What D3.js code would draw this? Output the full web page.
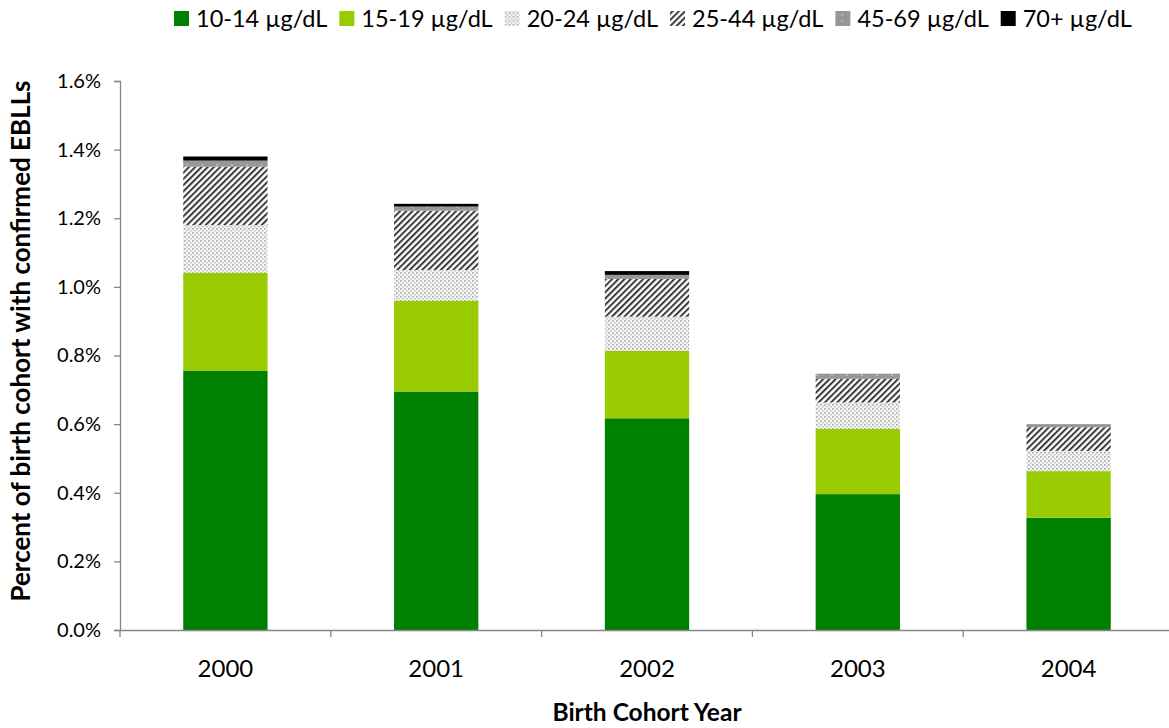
<!DOCTYPE html>
<html>
<head>
<meta charset="utf-8">
<script src="https://cdn.jsdelivr.net/npm/d3@7"></script>
<style>
  html, body { margin: 0; padding: 0; background: #fff; }
  svg { display: block; font-family: Lato, "Open Sans", sans-serif; }
</style>
</head>
<body>
<svg id="chart" width="1169" height="728"></svg>
<script>
// Birth cohort years
const years = ["2000", "2001", "2002", "2003", "2004"];

// Blood lead level groups (stack order, bottom to top)
const levels = ["10-14 µg/dL", "15-19 µg/dL", "20-24 µg/dL", "25-44 µg/dL", "45-69 µg/dL", "70+ µg/dL"];

// Percent of birth cohort with confirmed EBLLs, per level group
const lvl10to14 = [0.756, 0.695, 0.617, 0.396, 0.327];
const lvl15to19 = [0.285, 0.264, 0.197, 0.190, 0.136];
const lvl20to24 = [0.139, 0.090, 0.099, 0.077, 0.059];
const lvl25to44 = [0.170, 0.173, 0.110, 0.069, 0.069];
const lvl45to69 = [0.018, 0.012, 0.012, 0.015, 0.009];
const lvl70plus = [0.012, 0.008, 0.011, 0.000, 0.000];

// Y axis ticks
const yTicks = [0, 0.2, 0.4, 0.6, 0.8, 1.0, 1.2, 1.4, 1.6];

const seriesValues = [lvl10to14, lvl15to19, lvl20to24, lvl25to44, lvl45to69, lvl70plus];
const rows = years.map((yr, i) => {
  const r = { year: yr };
  levels.forEach((lv, j) => { r[lv] = seriesValues[j][i]; });
  return r;
});

const svg = d3.select("#chart");
const axisColor = "#868686";

// Fill patterns
const defs = svg.append("defs");
const dots = defs.append("pattern").attr("id", "pat-dots")
  .attr("patternUnits", "userSpaceOnUse").attr("width", 4).attr("height", 4);
dots.append("rect").attr("width", 4).attr("height", 4).attr("fill", "#f4f4f4");
dots.append("rect").attr("x", 0).attr("y", 0).attr("width", 1.6).attr("height", 1.6).attr("fill", "#a8a8a8");
dots.append("rect").attr("x", 2).attr("y", 2).attr("width", 1.6).attr("height", 1.6).attr("fill", "#c4c4c4");

const stripes = defs.append("pattern").attr("id", "pat-stripes")
  .attr("patternUnits", "userSpaceOnUse").attr("width", 4.4).attr("height", 10)
  .attr("patternTransform", "rotate(45)");
stripes.append("rect").attr("width", 4.4).attr("height", 10).attr("fill", "#ffffff");
stripes.append("rect").attr("x", 0).attr("y", 0).attr("width", 2).attr("height", 10).attr("fill", "#3a3a3a");

const grayDots = defs.append("pattern").attr("id", "pat-gray")
  .attr("patternUnits", "userSpaceOnUse").attr("width", 15).attr("height", 6);
grayDots.append("rect").attr("width", 15).attr("height", 6).attr("fill", "#979797");
grayDots.append("rect").attr("x", 6).attr("y", 2).attr("width", 2).attr("height", 2).attr("fill", "#b4b4b4");

const fills = ["#008000", "#99cc00", "url(#pat-dots)", "url(#pat-stripes)", "url(#pat-gray)", "#000000"];
const color = d3.scaleOrdinal().domain(levels).range(fills);

// Scales
const x = d3.scaleBand().domain(years).range([120, 1174]).paddingInner(0).paddingOuter(0);
const y = d3.scaleLinear().domain([0, 1.6]).range([630, 81]);
const barW = x.bandwidth() * 0.4;

// Stacked bars
const stacked = d3.stack().keys(levels)(rows);
svg.append("g").selectAll("g")
  .data(stacked)
  .join("g")
  .attr("fill", d => color(d.key))
  .selectAll("rect")
  .data(d => d)
  .join("rect")
  .attr("x", d => x(d.data.year) + (x.bandwidth() - barW) / 2)
  .attr("width", barW)
  .attr("y", d => y(d[1]))
  .attr("height", d => Math.max(0, y(d[0]) - y(d[1])));

// Y axis
const yAxis = svg.append("g").attr("transform", "translate(120,0)")
  .call(d3.axisLeft(y).tickValues(yTicks).tickSize(6).tickPadding(13)
    .tickFormat(d => d3.format(".1f")(d) + "%"));
yAxis.select(".domain").attr("stroke", axisColor).attr("stroke-width", 1.3);
yAxis.selectAll(".tick line").attr("stroke", axisColor).attr("stroke-width", 1.3);
yAxis.selectAll(".tick text").attr("fill", "#000").style("font-size", "20px")
  .style("font-family", "Lato, sans-serif");

// X axis
const xAxis = svg.append("g").attr("transform", "translate(0,630)")
  .call(d3.axisBottom(x).tickSize(0).tickPadding(30));
xAxis.select(".domain").attr("stroke", axisColor).attr("stroke-width", 1.3);
xAxis.selectAll(".tick text").attr("fill", "#000").style("font-size", "24px")
  .style("font-family", "Lato, sans-serif");
// category separator ticks
svg.append("g").selectAll("line")
  .data(years.concat(["end"]))
  .join("line")
  .attr("x1", (d, i) => x.range()[0] + i * x.step())
  .attr("x2", (d, i) => x.range()[0] + i * x.step())
  .attr("y1", 630).attr("y2", 637)
  .attr("stroke", axisColor).attr("stroke-width", 1.3);

// Axis titles
svg.append("text")
  .attr("x", 647).attr("y", 721)
  .attr("text-anchor", "middle")
  .style("font-weight", "bold").style("font-size", "24.5px")
  .text("Birth Cohort Year");

svg.append("text")
  .attr("transform", "translate(30,341) rotate(-90)")
  .attr("text-anchor", "middle")
  .style("font-weight", "bold").style("font-size", "26px")
  .text("Percent of birth cohort with confirmed EBLLs");

// Legend
const legend = svg.append("g").attr("transform", "translate(174,0)");
let lx = 0;
levels.forEach((lv) => {
  const g = legend.append("g").attr("transform", `translate(${lx},0)`);
  g.append("rect").attr("x", 0).attr("y", 11).attr("width", 15).attr("height", 15)
    .attr("fill", color(lv));
  const t = g.append("text").attr("x", 22).attr("y", 27)
    .style("font-size", "23.5px").text(lv);
  lx += 22 + t.node().getComputedTextLength() + 12;
});
</script>
</body>
</html>
